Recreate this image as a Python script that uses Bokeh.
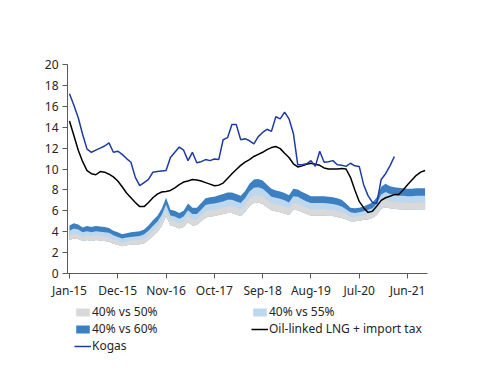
from bokeh.plotting import figure
from bokeh.models import Range1d, FixedTicker, Legend, LegendItem
from bokeh.embed import file_html
from bokeh.resources import INLINE

# Monthly data, Jan-15 (index 0) to Oct-21 (index 81)
months = list(range(82))
tick_months = [0, 11, 22, 33, 44, 55, 66, 77]
tick_labels = ["Jan-15", "Dec-15", "Nov-16", "Oct-17", "Sep-18", "Aug-19", "Jul-20", "Jun-21"]
y_ticks = [0, 2, 4, 6, 8, 10, 12, 14, 16, 18, 20]

# Band bottom (lower edge of 40% vs 50%)
band_base = [3.2, 3.35, 3.3, 3.1, 3.2, 3.1, 3.2, 3.15, 3.1, 3.05,
             2.85, 2.75, 2.6, 2.7, 2.75, 2.8, 2.8, 2.9, 3.2, 3.6,
             3.95, 4.55, 5.5, 4.6, 4.5, 4.3, 4.45, 4.9, 4.6, 4.65,
             5.0, 5.35, 5.45, 5.5, 5.6, 5.7, 5.8, 5.8, 5.65, 5.5,
             5.9, 6.45, 6.75, 6.8, 6.65, 6.35, 6.05, 5.95, 5.85, 5.75,
             5.6, 6.1, 6.05, 5.85, 5.7, 5.55, 5.55, 5.55, 5.55, 5.5,
             5.5, 5.4, 5.3, 5.2, 5.0, 5.0, 5.05, 5.15, 5.2, 5.3,
             5.6, 6.2, 6.35, 6.25, 6.2, 6.15, 6.15, 6.1, 6.1, 6.15,
             6.15, 6.15]
# Upper edge of 40% vs 50%
band_50 = [3.65, 3.8, 3.75, 3.5, 3.65, 3.55, 3.65, 3.6, 3.55, 3.45,
           3.25, 3.15, 2.95, 3.05, 3.15, 3.2, 3.2, 3.3, 3.65, 4.1,
           4.45, 5.1, 6.05, 5.1, 5.0, 4.8, 4.95, 5.5, 5.15, 5.2,
           5.55, 5.95, 6.05, 6.1, 6.2, 6.3, 6.4, 6.4, 6.3, 6.1,
           6.55, 7.15, 7.45, 7.5, 7.4, 7.05, 6.7, 6.6, 6.5, 6.4,
           6.2, 6.75, 6.7, 6.5, 6.3, 6.15, 6.15, 6.15, 6.15, 6.1,
           6.1, 6.0, 5.85, 5.7, 5.4, 5.4, 5.45, 5.55, 5.65, 5.8,
           6.15, 6.85, 7.05, 6.9, 6.85, 6.8, 6.8, 6.75, 6.75, 6.8,
           6.8, 6.8]
# Upper edge of 40% vs 55%
band_55 = [4.1, 4.3, 4.2, 3.95, 4.05, 3.95, 4.05, 4.0, 3.95, 3.9,
           3.65, 3.5, 3.35, 3.45, 3.5, 3.55, 3.6, 3.75, 4.1, 4.55,
           4.95, 5.6, 6.6, 5.55, 5.45, 5.25, 5.45, 6.05, 5.7, 5.7,
           6.1, 6.55, 6.65, 6.7, 6.8, 6.9, 7.05, 7.05, 6.9, 6.75,
           7.2, 7.85, 8.2, 8.25, 8.1, 7.75, 7.35, 7.25, 7.15, 7.0,
           6.8, 7.4, 7.35, 7.1, 6.9, 6.75, 6.75, 6.75, 6.75, 6.7,
           6.65, 6.55, 6.4, 6.15, 5.85, 5.8, 5.85, 5.95, 6.1, 6.25,
           6.7, 7.55, 7.8, 7.6, 7.5, 7.45, 7.45, 7.4, 7.4, 7.45,
           7.45, 7.45]
# Upper edge of 40% vs 60%
band_60 = [4.6, 4.8, 4.7, 4.4, 4.55, 4.45, 4.55, 4.5, 4.45, 4.35,
           4.1, 3.95, 3.75, 3.85, 3.95, 4.0, 4.05, 4.2, 4.6, 5.1,
           5.5, 6.2, 7.25, 6.1, 6.0, 5.8, 6.0, 6.7, 6.3, 6.3,
           6.75, 7.2, 7.3, 7.35, 7.5, 7.6, 7.75, 7.75, 7.6, 7.45,
           7.9, 8.6, 9.0, 9.05, 8.9, 8.5, 8.1, 7.95, 7.85, 7.7,
           7.5, 8.1, 8.05, 7.8, 7.6, 7.4, 7.4, 7.4, 7.4, 7.35,
           7.3, 7.2, 7.05, 6.7, 6.3, 6.25, 6.3, 6.4, 6.6, 6.8,
           7.3, 8.3, 8.6, 8.35, 8.25, 8.2, 8.15, 8.1, 8.1, 8.15,
           8.15, 8.15]
oil_linked = [14.6, 13.2, 11.8, 10.7, 9.85, 9.55, 9.45, 9.75, 9.7, 9.5,
              9.25, 8.85, 8.3, 7.7, 7.25, 6.8, 6.4, 6.4, 6.8, 7.25,
              7.6, 7.8, 7.85, 7.95, 8.2, 8.5, 8.75, 8.85, 9.0, 8.95,
              8.85, 8.7, 8.55, 8.4, 8.45, 8.65, 9.1, 9.55, 9.95, 10.35,
              10.65, 10.9, 11.2, 11.4, 11.6, 11.85, 12.05, 12.15, 11.95, 11.5,
              11.1, 10.5, 10.2, 10.3, 10.45, 10.55, 10.45, 10.35, 10.1, 10.0,
              10.0, 10.0, 10.05, 10.0, 9.2, 8.0, 6.9, 6.3, 5.85, 5.95,
              6.45, 7.0, 7.25, 7.4, 7.55, 7.55, 8.0, 8.5, 8.95, 9.4,
              9.7, 9.85]
kogas = [17.2, 16.1, 14.9, 13.3, 11.9, 11.6, 11.8, 12.0, 12.2, 12.5,
         11.6, 11.7, 11.4, 11.0, 10.65, 9.2, 8.4, 8.7, 9.0, 9.7,
         9.75, 9.8, 9.85, 11.1, 11.6, 12.1, 11.8, 10.8, 11.6, 10.6,
         10.7, 10.9, 10.8, 10.95, 10.9, 12.8, 13.0, 14.25, 14.25, 12.8,
         12.9, 12.7, 12.4, 13.1, 13.5, 13.8, 13.6, 15.0, 14.8, 15.45,
         14.8, 13.4, 10.4, 10.4, 10.5, 10.8, 10.25, 11.7, 10.65, 10.7,
         10.8, 10.4, 10.35, 10.25, 10.55, 10.3, 10.25, 8.5, 7.45, 6.8,
         6.7, 9.0, 9.55, 10.3, 11.2]

FONT = "Noto Sans"
TEXT = "#262626"
AXIS = "#595959"

# Layout (pixels): axes box x 67..427, y 64 (=20) .. 273 (=0).
# The frame is made larger so axis labels and legend are not clipped.
X0, X1 = -0.45, 81.55
PX_PER_M = (427 - 67) / (X1 - X0)
PX_PER_Y = (273 - 64) / 20.0
F_L, F_R, F_T, F_B = 30, 470, 30, 356
x_start = X0 - (67 - F_L) / PX_PER_M
x_end = X1 + (F_R - 427) / PX_PER_M
y_top = 20 + (64 - F_T) / PX_PER_Y
y_bot = -(F_B - 273) / PX_PER_Y

p = figure(width=500, height=386, output_backend="svg", toolbar_location=None,
           x_range=Range1d(x_start, x_end), y_range=Range1d(y_bot, y_top),
           min_border_left=F_L, min_border_right=500 - F_R, min_border_top=F_T,
           min_border_bottom=386 - F_B)
p.outline_line_color = None
p.grid.visible = False
p.background_fill_color = "white"

# overlapping areas (drawn from the common base) avoid seams between bands
r60 = p.varea(x=months, y1=band_base, y2=band_60, fill_color="#3D80C1")
r55 = p.varea(x=months, y1=band_base, y2=band_55, fill_color="#BDD7EE")
r50 = p.varea(x=months, y1=band_base, y2=band_50, fill_color="#D9D9D9")
r_oil = p.line(months, oil_linked, line_color="black", line_width=1.5)
r_kg = p.line(months[:len(kogas)], kogas, line_color="#1C3CA4", line_width=1.5)

p.xaxis.ticker = FixedTicker(ticks=tick_months)
p.xaxis.major_label_overrides = {m: l for m, l in zip(tick_months, tick_labels)}
p.xaxis.fixed_location = 0
p.xaxis.bounds = (X0, X1)
p.yaxis.ticker = FixedTicker(ticks=y_ticks)
p.yaxis.fixed_location = X0
p.yaxis.bounds = (0, 20)
for ax in (p.xaxis[0], p.yaxis[0]):
    ax.axis_line_color = AXIS
    ax.axis_line_width = 1
    ax.major_tick_line_color = AXIS
    ax.major_tick_out = 5
    ax.major_tick_in = 0
    ax.minor_tick_line_color = None
    ax.major_label_text_font = FONT
    ax.major_label_text_font_size = "12px"
    ax.major_label_text_color = TEXT
p.xaxis.major_label_standoff = 3
p.yaxis.major_label_standoff = 4

legend = Legend(items=[LegendItem(label="40% vs 50%", renderers=[r50]),
                       LegendItem(label="40% vs 55%", renderers=[r55]),
                       LegendItem(label="40% vs 60%", renderers=[r60]),
                       LegendItem(label="Oil-linked LNG + import tax", renderers=[r_oil]),
                       LegendItem(label="Kogas", renderers=[r_kg])],
                orientation="horizontal", ncols=2, location=(67 - F_L + 7, 2),
                padding=0, margin=0, spacing=0,
                glyph_width=17, glyph_height=10,
                label_width=159, label_height=17, label_standoff=1,
                border_line_color=None, background_fill_alpha=0,
                label_text_font=FONT, label_text_font_size="12px",
                label_text_color=TEXT)
p.add_layout(legend)

open("out.html", "w").write(file_html(p, INLINE))
